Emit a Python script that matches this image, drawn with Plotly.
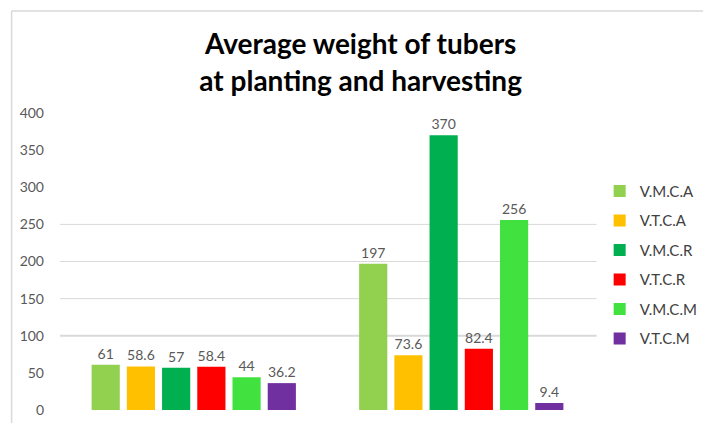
import plotly.graph_objects as go

categories = ["Planting", "Harvesting"]
series_names = ["V.M.C.A", "V.T.C.A", "V.M.C.R", "V.T.C.R", "V.M.C.M", "V.T.C.M"]
planting = [61, 58.6, 57, 58.4, 44, 36.2]
harvesting = [197, 73.6, 370, 82.4, 256, 9.4]
colors = ["#92D050", "#FFC000", "#00B050", "#FF0000", "#41E23F", "#7030A0"]
y_ticks = [0, 50, 100, 150, 200, 250, 300, 350, 400]
grid_values = [100, 150, 200, 250]

fig = go.Figure()
for i, name in enumerate(series_names):
    vals = [planting[i], harvesting[i]]
    fig.add_trace(go.Bar(
        x=categories, y=vals, name=name,
        marker=dict(color=colors[i], line=dict(width=0)),
        text=[f"{v:g}" for v in vals], textposition="outside",
        textfont=dict(family="Lato", size=14, color="#595959"),
        constraintext="none",
        cliponaxis=False, legendgroup=name,
    ))

shapes = []
for g in grid_values:
    shapes.append(dict(type="line", xref="paper", yref="y", x0=0, x1=1.003, y0=g, y1=g,
                       line=dict(color="#d9d9d9", width=2 if g == 100 else 1), layer="below"))
# outer chart border (top and left)
shapes.append(dict(type="line", xref="paper", yref="paper", x0=-0.0905, x1=1.21, y0=1.3434, y1=1.3434,
                   line=dict(color="#d9d9d9", width=1.5)))
shapes.append(dict(type="line", xref="paper", yref="paper", x0=-0.0905, x1=-0.0905, y0=1.3434, y1=-0.05,
                   line=dict(color="#d9d9d9", width=1.5)))

fig.update_layout(
    width=703, height=423,
    margin=dict(l=59.5, r=107.5, t=113, b=13, autoexpand=False),
    paper_bgcolor="white", plot_bgcolor="white",
    barmode="group", bargap=0.21, bargroupgap=0.2,
    uniformtext=dict(mode=False),
    title=dict(text="<b>Average weight of tubers<br>at planting and harvesting</b>",
               x=0.513, xanchor="center", y=0.872, yanchor="top",
               font=dict(family="Lato", size=28, color="#000000")),
    font=dict(family="Lato", color="#595959"),
    xaxis=dict(showticklabels=False, showgrid=False, zeroline=False, showline=False, ticks=""),
    yaxis=dict(range=[0, 400], tickvals=y_ticks, showgrid=False, zeroline=False, showline=False,
               tickfont=dict(family="Lato", size=14, color="#595959"), ticks="",
               ticklabelstandoff=15),
    legend=dict(x=0.853, xref="container", xanchor="left", y=0.587, yref="container", yanchor="top",
                font=dict(family="Lato", size=15, color="#404040"),
                tracegroupgap=7, itemwidth=30),
    shapes=shapes,
    showlegend=True,
)

fig.write_html("out.html", config={"displayModeBar": False},
               post_script="document.body.style.margin='0';")
